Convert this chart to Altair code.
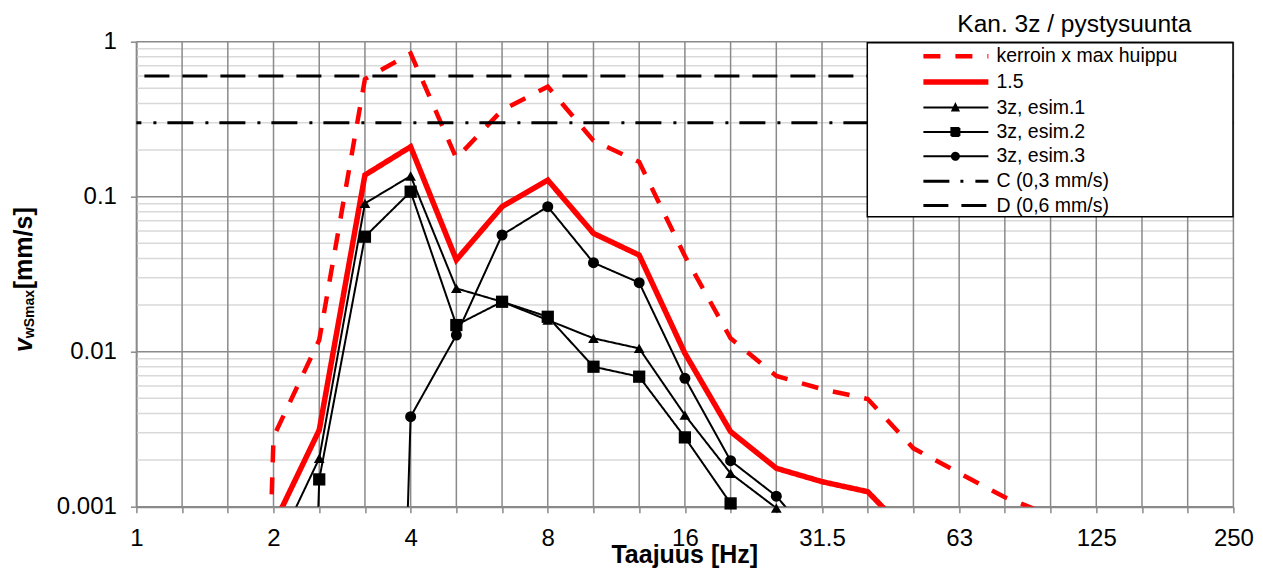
import json
import altair as alt
import pandas as pd

# ---------------- data ----------------
bands = [1, 1.25, 1.6, 2, 2.5, 3.15, 4, 5, 6.3, 8, 10, 12.5, 16, 20, 25,
         31.5, 40, 50, 63, 80, 100, 125, 160, 200, 250]
tick_labels = ["1", "2", "4", "8", "16", "31.5", "63", "125", "250"]
y_tick_values = [0.001, 0.01, 0.1, 1]

series_names = ["kerroin x max huippu", "1.5", "3z, esim.1", "3z, esim.2",
                "3z, esim.3", "C (0,3 mm/s)", "D (0,6 mm/s)"]

N = None
kerroin = [N, N, 1e-12, 0.00282, 0.0119, 0.574, 0.841, 0.177, 0.362, 0.513,
           0.230, 0.1675, 0.0414, 0.0122, 0.00697, 0.00574, 0.00495, 0.00238,
           0.00165, 0.00115, 0.00088, N, N, N, N]
k15 = [N, N, N, 0.00076, 0.00312, 0.138, 0.210, 0.0391, 0.0862, 0.128,
       0.058, 0.042, 0.00977, 0.00305, 0.00177, 0.00145, 0.00125, 0.00062,
       N, N, N, N, N, N, N]
esim1 = [N, N, N, 0.00049, 0.00205, 0.0906, 0.136, 0.0256, 0.021, 0.016,
         0.0122, 0.0105, 0.0039, 0.00164, 0.00098, 0.00092, 0.00083,
         N, N, N, N, N, N, N, N]
esim2 = [N, N, N, 1e-12, 0.0015, 0.0552, 0.1077, 0.01486, 0.021, 0.0168,
         0.008, 0.0069, 0.0028, 0.00105, 0.0002,
         N, N, N, N, N, N, N, N, N, N]
esim3 = [N, N, N, N, N, 1e-12, 0.00381, 0.0128, 0.0566, 0.0862,
         0.0375, 0.0279, 0.00673, 0.00198, 0.00117, 0.00053,
         N, N, N, N, N, N, N, N, N]
limit_C = 0.3
limit_D = 0.6

# ---------------- tables ----------------
rows = []
for name, vals in zip(series_names[:5], [kerroin, k15, esim1, esim2, esim3]):
    for i, (f, v) in enumerate(zip(bands, vals)):
        if v is not None:
            rows.append({"series": name, "i": i, "band": f, "v": v})
df = pd.DataFrame(rows)
df_lim = pd.DataFrame({"series": series_names[5:], "v": [limit_C, limit_D]})
df_x = pd.DataFrame({"i": list(range(len(bands)))})
df_major = pd.DataFrame({"v": y_tick_values})
df_minor = pd.DataFrame({"v": [m * d for d in y_tick_values[:3] for m in range(2, 10)]})

FONT = "Liberation Sans"
GRID = "#8a8a8a"
MINOR = "#d9d9d9"

lab_js = json.dumps(tick_labels)
x_scale = alt.Scale(domain=[0, len(bands) - 1], nice=False, zero=False)
y_scale = alt.Scale(type="log", domain=[0.001, 1], nice=False)

x_enc = alt.X("i:Q", scale=x_scale, title=None, axis=alt.Axis(
    values=list(range(len(bands))), grid=False,
    labelExpr=f"datum.value % 3 == 0 ? {lab_js}[datum.value / 3] : ''",
    labelFont=FONT, labelFontSize=24, labelColor="black", labelPadding=14,
    labelFlush=False, labelOverlap=False, tickColor=GRID, tickSize=6,
    tickWidth=1.5, domainColor=GRID, domainWidth=2))
y_enc = alt.Y("v:Q", scale=y_scale, title=None, axis=alt.Axis(
    values=y_tick_values, format="~g", grid=False,
    labelFont=FONT, labelFontSize=24, labelColor="black", labelPadding=14,
    labelFlush=False, labelOverlap=False, tickColor=GRID, tickSize=6,
    tickWidth=1.5, domainColor=GRID, domainWidth=1.5))

color_range = ["#ff0000", "#ff0000", "black", "black", "black", "black", "black"]
dash_range = [[17, 15], [1, 0], [1, 0], [1, 0], [1, 0], [26, 11, 3, 12], [25, 13]]
width_range = [4.5, 5.5, 2, 2, 2, 3, 3]
marker_shapes = {"3z, esim.1": ("triangle-up", 115),
                 "3z, esim.2": ("square", 150),
                 "3z, esim.3": ("circle", 121)}
LN = "M0,0H6.5"
shape_range = [
    LN, LN,
    LN + "M2.9,0.3L3.2,-0.32L3.5,0.3Z",
    LN + "M2.8,-0.4H3.6V0.4H2.8Z",
    LN + "M3.55,0A0.35,0.35,0,1,1,2.85,0A0.35,0.35,0,1,1,3.55,0Z",
    LN, LN,
]

color_scale = alt.Scale(domain=series_names, range=color_range)
dash_scale = alt.Scale(domain=series_names, range=dash_range)
width_scale = alt.Scale(type="ordinal", domain=series_names, range=width_range)
shape_scale = alt.Scale(domain=series_names, range=shape_range)

minor = alt.Chart(df_minor).mark_rule(color=MINOR, strokeWidth=1.5).encode(y=y_enc)
vgrid = alt.Chart(df_x).mark_rule(color=GRID, strokeWidth=1.5).encode(x=x_enc)
hgrid = alt.Chart(df_major).mark_rule(color=GRID, strokeWidth=1.5).encode(y=y_enc)

layers = [minor, vgrid, hgrid]
for k, name in enumerate(series_names[:5]):
    layers.append(
        alt.Chart(df).transform_filter(alt.datum.series == name).mark_line(
            clip=True, strokeJoin="miter", color=color_range[k],
            strokeDash=dash_range[k], strokeWidth=width_range[k]
        ).encode(x=x_enc, y=y_enc)
    )
for name, (shp, sz) in marker_shapes.items():
    layers.append(
        alt.Chart(df).transform_filter(
            f"datum.series == '{name}' && datum.v >= 0.00095"
        ).mark_point(shape=shp, filled=True, color="black", size=sz, opacity=1
        ).encode(x=x_enc, y=y_enc)
    )
for k, name in enumerate(series_names[5:], start=5):
    layers.append(
        alt.Chart(df_lim).transform_filter(alt.datum.series == name).mark_rule(
            color=color_range[k], strokeDash=dash_range[k], strokeWidth=width_range[k]
        ).encode(y=y_enc)
    )

# white framed box behind the legend (covers the limit lines like the original)
legend_box = alt.Chart(pd.DataFrame({"b": [0]})).mark_rect(
    fill="white", stroke="black", strokeWidth=1.5
).encode(x=alt.value(730.9), x2=alt.value(1096.6), y=alt.value(1.0), y2=alt.value(175.0))
layers.append(legend_box)

legend_layer = alt.Chart(alt.Data(values=[])).mark_point(
    filled=False, fill="black", opacity=1).encode(
    x=x_enc, y=y_enc,
    stroke=alt.Stroke("series:N", scale=color_scale, title=None),
    strokeDash=alt.StrokeDash("series:N", scale=dash_scale, title=None),
    strokeWidth=alt.StrokeWidth("series:N", scale=width_scale, title=None),
    shape=alt.Shape("series:N", scale=shape_scale, title=None))
layers.append(legend_layer)

title_txt = alt.Chart(pd.DataFrame({"t": ["Kan. 3z / pystysuunta"]})).mark_text(
    font=FONT, fontSize=24.5, align="center", baseline="alphabetic", color="black"
).encode(text="t:N", x=alt.value(938), y=alt.value(-10))

xtitle = alt.Chart(pd.DataFrame({"t": ["Taajuus [Hz]"]})).mark_text(
    font=FONT, fontSize=25, fontWeight="bold", align="center", baseline="alphabetic", color="black"
).encode(text="t:N", x=alt.value(548.4), y=alt.value(521.5))

yt_v = alt.Chart(pd.DataFrame({"t": ["v"]})).mark_text(
    font=FONT, fontSize=25, fontWeight="bold", fontStyle="italic", angle=270,
    align="left", baseline="alphabetic", color="black"
).encode(text="t:N", x=alt.value(-104.4), y=alt.value(310.3))
yt_sub = alt.Chart(pd.DataFrame({"t": ["wSmax"]})).mark_text(
    font=FONT, fontSize=14, fontWeight="bold", angle=270,
    align="left", baseline="alphabetic", color="black"
).encode(text="t:N", x=alt.value(-102.5), y=alt.value(296.5))
yt_unit = alt.Chart(pd.DataFrame({"t": ["[mm/s]"]})).mark_text(
    font=FONT, fontSize=25, fontWeight="bold", angle=270,
    align="left", baseline="alphabetic", color="black"
).encode(text="t:N", x=alt.value(-104.4), y=alt.value(247.5))

layers += [title_txt, xtitle, yt_v, yt_sub, yt_unit]

chart = alt.layer(*layers).properties(
    width=1097, height=465,
    autosize=alt.AutoSizeParams(type="none"),
    padding={"left": 128.4, "top": 33.7, "right": 21, "bottom": 61.3},
).configure_view(strokeWidth=0).configure_legend(
    orient="none", legendX=731, legendY=1, padding=1,
    labelFont=FONT, labelFontSize=19.5, labelColor="black",
    symbolSize=400, symbolOffset=42, labelOffset=60, rowPadding=3.4,
    labelLimit=500,
)

chart.save("out.html", embed_options={"renderer": "svg", "actions": False})
